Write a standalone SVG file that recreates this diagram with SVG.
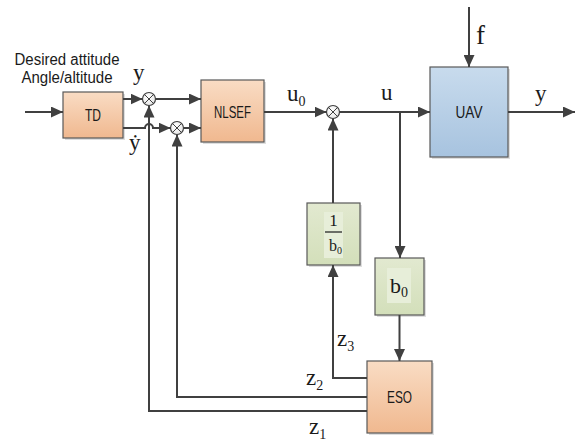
<svg xmlns="http://www.w3.org/2000/svg" width="576" height="443" viewBox="0 0 576 443">
<defs>
  <linearGradient id="peach" x1="0" y1="0" x2="0" y2="1">
    <stop offset="0" stop-color="#f9dcc4"/>
    <stop offset="1" stop-color="#f0b88f"/>
  </linearGradient>
  <linearGradient id="blue" x1="0" y1="0" x2="0" y2="1">
    <stop offset="0" stop-color="#c8dbed"/>
    <stop offset="1" stop-color="#a7c3df"/>
  </linearGradient>
  <linearGradient id="green" x1="0" y1="0" x2="0" y2="1">
    <stop offset="0" stop-color="#e2e9d0"/>
    <stop offset="1" stop-color="#d3dfba"/>
  </linearGradient>
  <radialGradient id="sum" cx="0.4" cy="0.35" r="0.7">
    <stop offset="0" stop-color="#ffffff"/>
    <stop offset="1" stop-color="#e6e6e6"/>
  </radialGradient>
  <marker id="arr" viewBox="0 0 12 11" refX="12" refY="5.5" markerWidth="12" markerHeight="11" markerUnits="userSpaceOnUse" orient="auto">
    <path d="M0,0 L12,5.5 L0,11 Z" fill="#404040"/>
  </marker>
</defs>
<style>
  .box { stroke: #595959; stroke-width: 1.2; }
  .shadow { fill: #c8c8c8; opacity: 0.6; }
  .lbl { font-family: "Liberation Sans", Arial, sans-serif; font-size: 15px; fill: #1a1a1a; text-anchor: middle; }
  .blbl { font-size: 17px; }
  .math { font-family: "Liberation Serif", "DejaVu Serif", serif; font-size: 23px; fill: #1a1a1a; }
  .sub { font-size: 14px; }
  .conn { fill: none; stroke: #404040; stroke-width: 2; }
  .sumc { fill: url(#sum); stroke: #404040; stroke-width: 1.2; }
  .sumx { stroke: #404040; stroke-width: 1; }
</style>

<text class="lbl" x="67" y="65" style="font-size:16px" textLength="105" lengthAdjust="spacingAndGlyphs">Desired attitude</text>
<text class="lbl" x="67" y="83" style="font-size:16px" textLength="91" lengthAdjust="spacingAndGlyphs">Angle/altitude</text>

<g id="TD">
  <rect class="shadow" x="65" y="94" width="60" height="46"/>
  <rect class="box" x="63" y="92" width="60" height="46" fill="url(#peach)"/>
  <text class="lbl blbl" x="93" y="121" textLength="16" lengthAdjust="spacingAndGlyphs">TD</text>
</g>

<g id="NLSEF">
  <rect class="shadow" x="203" y="82" width="63" height="62"/>
  <rect class="box" x="201" y="80" width="63" height="62" fill="url(#peach)"/>
  <text class="lbl blbl" x="232.5" y="118" textLength="37" lengthAdjust="spacingAndGlyphs">NLSEF</text>
</g>

<g id="UAV">
  <rect class="shadow" x="432" y="69" width="78" height="90"/>
  <rect class="box" x="430" y="67" width="78" height="90" fill="url(#blue)"/>
  <text class="lbl blbl" x="469" y="118" textLength="27" lengthAdjust="spacingAndGlyphs">UAV</text>
</g>

<g id="inv_b0">
  <rect class="shadow" x="309" y="205" width="53" height="62"/>
  <rect class="box" x="307" y="203" width="53" height="62" fill="url(#green)"/>
  <rect x="324" y="212" width="19" height="46" fill="#e7eed9"/>
  <text class="math" x="333.5" y="226" text-anchor="middle" style="font-size:17px">1</text>
  <line x1="325" y1="232" x2="342" y2="232" stroke="#1a1a1a" stroke-width="1.2"/>
  <text class="math" x="329" y="251" style="font-size:16px">b<tspan class="sub" dy="3" style="font-size:10px">0</tspan></text>
</g>

<g id="b0">
  <rect class="shadow" x="377" y="260" width="49" height="57"/>
  <rect class="box" x="375" y="258" width="49" height="57" fill="url(#green)"/>
  <rect x="387" y="268" width="24" height="35" fill="#e7eed9"/>
  <text class="math" x="390" y="293" style="font-size:22px">b<tspan class="sub" dy="4">0</tspan></text>
</g>

<g id="ESO">
  <rect class="shadow" x="369" y="363" width="65" height="72"/>
  <rect class="box" x="367" y="361" width="65" height="72" fill="url(#peach)"/>
  <text class="lbl blbl" x="399.5" y="403" textLength="25" lengthAdjust="spacingAndGlyphs">ESO</text>
</g>

<g id="sum1">
  <circle class="sumc" cx="149" cy="99" r="6.5"/>
  <path class="sumx" d="M144.4,94.4 L153.6,103.6 M153.6,94.4 L144.4,103.6"/>
</g>
<g id="sum2">
  <circle class="sumc" cx="177" cy="128" r="6.5"/>
  <path class="sumx" d="M172.4,123.4 L181.6,132.6 M181.6,123.4 L172.4,132.6"/>
</g>
<g id="sum3">
  <circle class="sumc" cx="333" cy="112" r="6.5"/>
  <path class="sumx" d="M328.4,107.4 L337.6,116.6 M337.6,107.4 L328.4,116.6"/>
</g>

<g id="connectors">
  <path class="conn" d="M25,112 H63" marker-end="url(#arr)"/>
  <path class="conn" d="M123,99 H142.5" marker-end="url(#arr)"/>
  <path class="conn" d="M155.5,99 H201" marker-end="url(#arr)"/>
  <path class="conn" d="M123,128 H145 A4,4 0 0 1 153,128 H170.5" marker-end="url(#arr)"/>
  <path class="conn" d="M183.5,128 H201" marker-end="url(#arr)"/>
  <path class="conn" d="M264,112 H326.5" marker-end="url(#arr)"/>
  <path class="conn" d="M339.5,112 H430" marker-end="url(#arr)"/>
  <path class="conn" d="M469,7 V67" marker-end="url(#arr)"/>
  <path class="conn" d="M508,112 H575" marker-end="url(#arr)"/>
  <path class="conn" d="M400,112 V258" marker-end="url(#arr)"/>
  <path class="conn" d="M399.5,315 V361" marker-end="url(#arr)"/>
  <path class="conn" d="M367,378 H333 V265" marker-end="url(#arr)"/>
  <path class="conn" d="M333,203 V118.5" marker-end="url(#arr)"/>
  <path class="conn" d="M367,397 H177 V134.5" marker-end="url(#arr)"/>
  <path class="conn" d="M367,411 H149 V105.5" marker-end="url(#arr)"/>
</g>

<text class="math" x="133" y="80">y</text>
<text class="math" x="129" y="150">ẏ</text>
<text class="math" x="287" y="101">u<tspan class="sub" dy="5">0</tspan></text>
<text class="math" x="381" y="100">u</text>
<text class="math" x="476" y="44" style="font-size:27px">f</text>
<text class="math" x="535" y="101">y</text>
<text class="math" x="337" y="346">z<tspan class="sub" dy="5">3</tspan></text>
<text class="math" x="306" y="385">z<tspan class="sub" dy="5">2</tspan></text>
<text class="math" x="309" y="434">z<tspan class="sub" dy="5">1</tspan></text>
</svg>
